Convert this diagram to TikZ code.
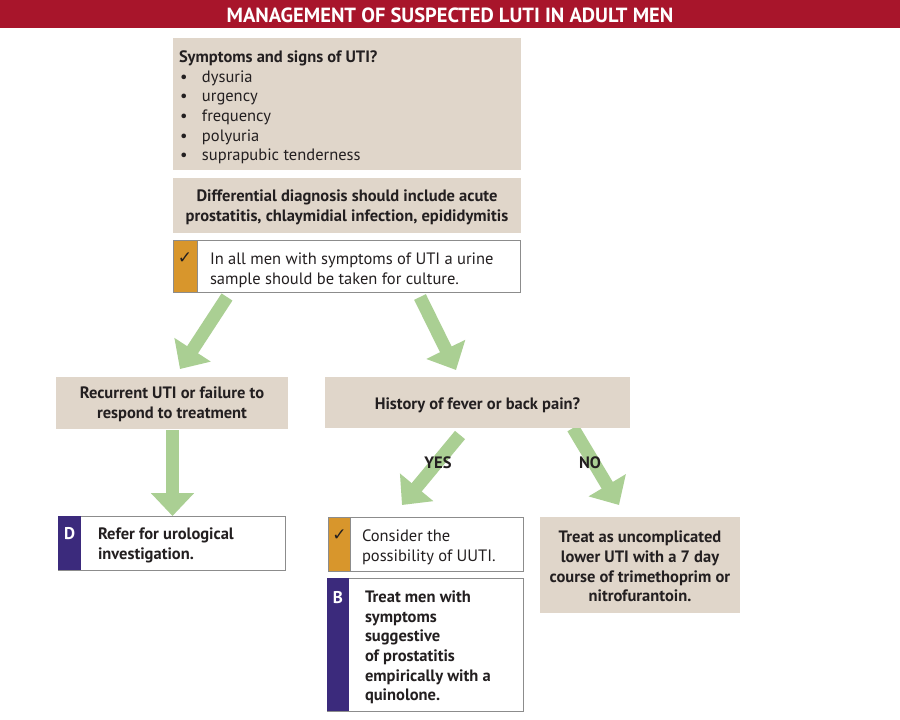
\documentclass[tikz,border=0pt]{standalone}
\usepackage{fontspec}
\setmainfont{PT Sans}
\newfontfamily\symfont{DejaVu Sans}
\usetikzlibrary{arrows.meta}
\definecolor{titlered}{HTML}{A8152B}
\definecolor{beige}{HTML}{E0D6CA}
\definecolor{orangeC}{HTML}{D8962C}
\definecolor{purpleC}{HTML}{3B2A7C}
\definecolor{greenC}{HTML}{AACF93}
\definecolor{borderC}{HTML}{8C8C8C}
\definecolor{inkC}{HTML}{231F20}
\begin{document}
\begin{tikzpicture}[x=1pt,y=-1pt,
  every node/.style={inner sep=0pt, outer sep=0pt, text=inkC, font=\fontsize{16.5}{19.7}\selectfont},
  box/.style={anchor=north west},
  beigebox/.style={box, fill=beige},
  whitebox/.style={box, fill=white, draw=borderC, line width=0.9pt},
  ostrip/.style={box, fill=orangeC, draw=borderC, line width=0.9pt},
  pstrip/.style={box, fill=purpleC},
  boldtxt/.style={font=\fontsize{16.5}{19.7}\selectfont\bfseries},
  bigarrow/.style={draw=greenC, line width=13pt, -{Triangle[length=23pt,width=42pt]}},
  tick/.style={font=\symfont\fontsize{17}{18}\selectfont},
  letter/.style={text=white, font=\fontsize{17}{18}\selectfont\bfseries}
]
\useasboundingbox[fill=white] (0,0) rectangle (900,720);

% title
\node[box, fill=titlered, minimum width=900pt, minimum height=28pt] (title) at (0,0) {};
\node[text=white, font=\fontsize{20.5}{22}\selectfont\bfseries] (titletext) at (450,15) {MANAGEMENT OF SUSPECTED LUTI IN ADULT MEN};

% arrows
\coordinate (a1s) at (227,297); \coordinate (a1e) at (180,369);
\coordinate (a2s) at (420,297); \coordinate (a2e) at (456,370);
\coordinate (a3s) at (172.5,430); \coordinate (a3e) at (172.5,516);
\coordinate (a4s) at (460,435); \coordinate (a4e) at (402,505);
\coordinate (a5s) at (573,428); \coordinate (a5e) at (619,505);
\draw[bigarrow] (a1s) -- (a1e);
\draw[bigarrow] (a2s) -- (a2e);
\draw[bigarrow] (a3s) -- (a3e);
\draw[bigarrow] (a4s) -- (a4e);
\draw[bigarrow] (a5s) -- (a5e);

% symptoms
\node[beigebox, minimum width=348pt, minimum height=132pt] (sym) at (173,38) {};
\node[anchor=west, align=left] (symtext) at (179,107.5) {%
  \textbf{Symptoms and signs of UTI?}\\
  \makebox[23pt][l]{\hspace{1pt}•}dysuria\\
  \makebox[23pt][l]{\hspace{1pt}•}urgency\\
  \makebox[23pt][l]{\hspace{1pt}•}frequency\\
  \makebox[23pt][l]{\hspace{1pt}•}polyuria\\
  \makebox[23pt][l]{\hspace{1pt}•}suprapubic tenderness};

% differential
\node[beigebox, minimum width=348pt, minimum height=55pt] (diff) at (173,178) {};
\node[boldtxt, align=center] (difftext) at (347,207.5) {Differential diagnosis should include acute\\prostatitis, chlaymidial infection, epididymitis};

% urine sample
\node[whitebox, minimum width=347pt, minimum height=52pt] (chk) at (173,240) {};
\node[ostrip, minimum width=24pt, minimum height=52pt] (chkstrip) at (173,240) {};
\node[tick] (chktick) at (185,258) {✓};
\node[anchor=west, align=left] (chktext) at (210,270.5) {In all men with symptoms of UTI a urine\\sample should be taken for culture.};

% recurrent
\node[beigebox, minimum width=232pt, minimum height=52pt] (rec) at (56,377) {};
\node[boldtxt, align=center] (rectext) at (172,404.5) {Recurrent UTI or failure to\\respond to treatment};

% history
\node[beigebox, minimum width=305pt, minimum height=51pt] (hist) at (325,377) {};
\node[boldtxt] (histtext) at (477.5,405) {History of fever or back pain?};

% yes / no
\node[boldtxt] (yes) at (438,463) {YES};
\node[boldtxt] (no) at (590,463) {NO};

% refer D
\node[whitebox, minimum width=227pt, minimum height=54pt] (refer) at (58,516) {};
\node[pstrip, minimum width=23pt, minimum height=54pt] (referstrip) at (58,516) {};
\node[letter] (dletter) at (69.5,534) {D};
\node[boldtxt, anchor=west, align=left] (refertext) at (98,545.5) {Refer for urological\\investigation.};

% consider
\node[whitebox, minimum width=195pt, minimum height=54pt] (cons) at (328,517) {};
\node[ostrip, minimum width=22pt, minimum height=54pt] (consstrip) at (328,517) {};
\node[tick] (constick) at (339.5,535) {✓};
\node[anchor=west, align=left] (constext) at (362,547) {Consider the\\possibility of UUTI.};

% B
\node[whitebox, minimum width=196pt, minimum height=133pt] (bbox) at (327,578) {};
\node[pstrip, minimum width=22pt, minimum height=133pt] (bstrip) at (327,578) {};
\node[letter] (bletter) at (338,598) {B};
\node[boldtxt, anchor=west, align=left] (btext) at (365,647.5) {Treat men with\\symptoms\\suggestive\\of prostatitis\\empirically with a\\quinolone.};

% treat
\node[beigebox, minimum width=200pt, minimum height=96pt] (treat) at (540,517) {};
\node[boldtxt, align=center] (treattext) at (640,566.5) {Treat as uncomplicated\\lower UTI with a 7 day\\course of trimethoprim or\\nitrofurantoin.};
\end{tikzpicture}
\end{document}
